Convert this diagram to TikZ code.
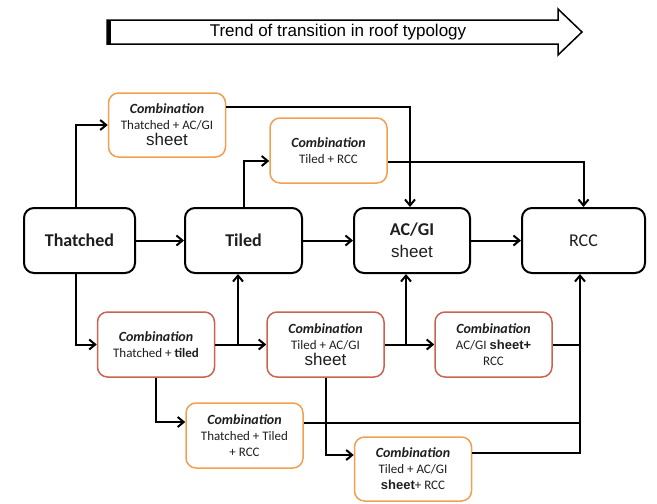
\documentclass[tikz,border=0pt]{standalone}
\usepackage{fontspec}
\setmainfont{Carlito}
\newfontfamily\arialfont{Liberation Sans}
\usetikzlibrary{positioning,arrows.meta}
\newlength{\boxWidth}
\setlength{\boxWidth}{117pt}
\newlength{\boxHeight}
\setlength{\boxHeight}{65pt}
\definecolor{comboOrange}{RGB}{240,160,80}
\definecolor{comboRed}{RGB}{200,100,80}
\definecolor{inkGray}{RGB}{30,30,30}
\newcommand{\combTitle}{{\bfseries\itshape\fontsize{14}{16}\selectfont Combination}}
\newcommand{\sheetWord}{{\arialfont\mdseries\fontsize{17}{17}\selectfont sheet}}
\tikzset{roof/.style={shape=rectangle, draw, rounded corners=10pt, line width=2pt, minimum width=\boxWidth, minimum height=\boxHeight, inner sep=0pt, align=center, text=inkGray, font=\bfseries\fontsize{18}{22}\selectfont}}
\tikzset{combo/.style={shape=rectangle, draw, rounded corners=10pt, line width=1.5pt, minimum width=\boxWidth, minimum height=\boxHeight, inner sep=0pt, align=center, text=inkGray, font=\fontsize{13}{16}\selectfont}}
\tikzset{link/.style={line width=2pt, -{Straight Barb[length=6pt,width=10pt]}}}
\tikzset{feedline/.style={line width=2pt}}

\begin{document}
\begin{tikzpicture}[x=1pt,y=-1pt]
\useasboundingbox (0,0) rectangle (657,504);
% trend arrow
\draw[line width=1.5pt] (107,20) -- (558,20) -- (558,9) -- (582,32) -- (558,55) -- (558,44) -- (107,44) -- cycle;
\fill (107,20) rectangle (111,44);
\node[font=\arialfont\fontsize{17}{17}\selectfont] (trend) at (338,32) {Trend of transition in roof typology};
% main roof types
\node[roof, minimum width=111pt] (thatched) at (79.5,240.5) {Thatched};
\node[roof] (tiled) at (243.5,240.5) {Tiled};
\node[roof, minimum width=116pt] (acgi) at (412,240.5) {AC/GI\\\sheetWord};
\node[roof, minimum width=123pt, font=\fontsize{18}{22}\selectfont] (rcc) at (583.5,240.5) {RCC};
% combinations
\node[combo, draw=comboOrange, minimum height=64pt] (combThAc) at (167,125) {\combTitle\\Thatched + AC/GI\\\sheetWord};
\node[combo, draw=comboOrange] (combTiRcc) at (328.5,150.5) {\combTitle\\Tiled + RCC};
\node[combo, draw=comboRed] (combThTi) at (156,344.5) {\combTitle\\Thatched + \textbf{tiled}};
\node[combo, draw=comboRed] (combTiAc) at (325.5,344.5) {\combTitle\\Tiled + AC/GI\\\sheetWord};
\node[combo, draw=comboRed] (combAcRcc) at (493.5,344.5) {\combTitle\\AC/GI {\arialfont\bfseries sheet+}\\RCC};
\node[combo, draw=comboOrange] (combThTiRcc) at (244.5,435.5) {\combTitle\\Thatched + Tiled\\+ RCC};
\node[combo, draw=comboOrange, minimum height=64pt] (combTiAcRcc) at (413,469) {\combTitle\\Tiled + AC/GI\\{\arialfont\bfseries sheet}+ RCC};
% upper paths
\draw[link] ([xshift=-3.5pt]thatched.north) |- (combThAc.west);
\draw[link] ([yshift=18pt]combThAc.east) -| ([xshift=-2pt]acgi.north);
\draw[link] (tiled.north) |- ([yshift=-10.5pt]combTiRcc.west);
\draw[link] ([yshift=-11pt]combTiRcc.east) -| (rcc.north);
% main line
\draw[link] (thatched) -- (tiled);
\draw[link] (tiled) -- (acgi);
\draw[link] (acgi) -- (rcc);
% lower paths
\draw[link] ([xshift=-3.5pt]thatched.south) |- (combThTi.west);
\draw[link] (combThTi.east) -- (combTiAc.west);
\coordinate (upTiled) at ([xshift=-5.5pt]tiled.south |- combThTi.east);
\draw[link] (upTiled) -- (upTiled |- tiled.south);
\draw[link] (combTiAc.east) -- (combAcRcc.west);
\coordinate (upAcgi) at ([xshift=-6pt]acgi.south |- combTiAc.east);
\draw[link] (upAcgi) -- (upAcgi |- acgi.south);
\draw[link] (combThTi.south) |- ([yshift=13.5pt]combThTiRcc.west);
\draw[link] (combTiAc.south) |- ([yshift=14pt]combTiAcRcc.west);
\coordinate (rccFeed) at ([xshift=-3.5pt]rcc.south);
\draw[link] ([yshift=16pt]combTiAcRcc.east) -| (rccFeed);
\draw[feedline] (combAcRcc.east) -- (combAcRcc.east -| rccFeed);
\draw[feedline] ([yshift=12.5pt]combThTiRcc.east) -- ([yshift=12.5pt]combThTiRcc.east -| rccFeed);
\end{tikzpicture}
\end{document}
